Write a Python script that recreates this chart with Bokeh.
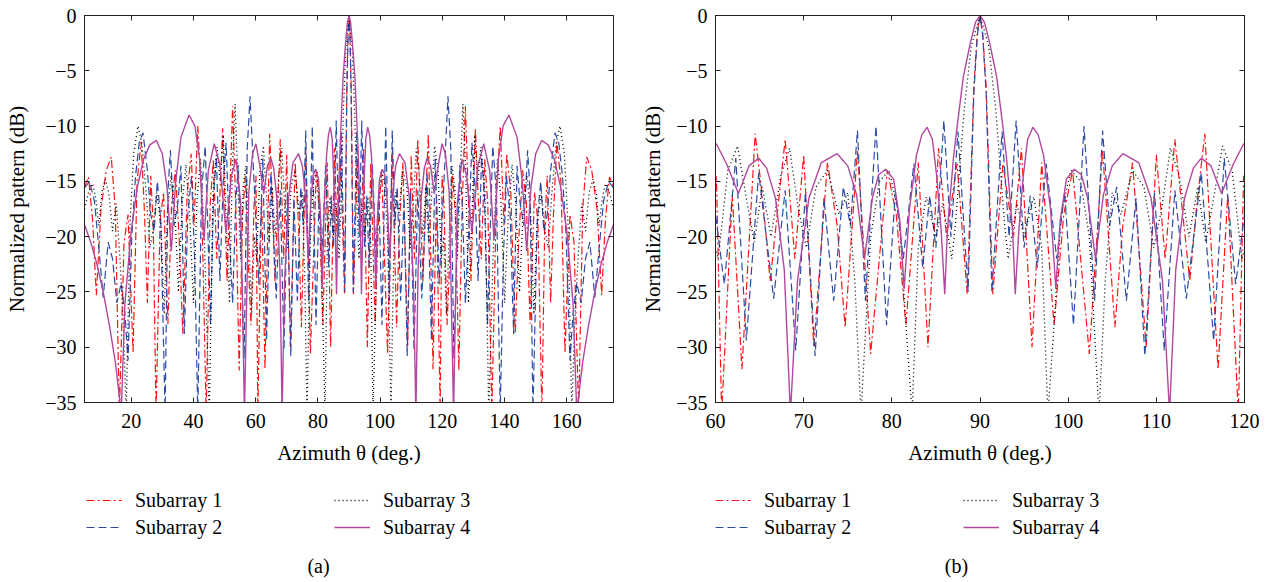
from bokeh.plotting import figure
from bokeh.models import (LinearAxis, Legend, LegendItem, Label, FixedTicker,
                          Range1d, CustomJSTickFormatter)
from bokeh.layouts import row, column
from bokeh.embed import file_html
from bokeh.resources import INLINE

FONT = "Liberation Serif"

# ---------------- data (azimuth in degrees, normalized pattern in dB) ----------------
series_names = ["Subarray 1", "Subarray 2", "Subarray 3", "Subarray 4"]

sub1_theta = [5.0, 6.3, 7.6, 8.8, 10.3, 12.0, 13.6, 14.9, 16.2, 17.7, 19.0, 20.6, 21.9, 23.2, 24.3,
              25.2, 26.3, 27.1, 28.0, 29.3, 30.4, 31.8, 33.0, 34.2, 35.4, 36.6, 38.0, 39.3, 40.2,
              41.4, 42.6, 44.1, 45.4, 46.4, 47.5, 48.4, 49.4, 50.8, 52.6, 53.7, 54.7, 55.8, 56.7,
              57.6, 58.5, 59.5, 60.1, 60.7, 61.9, 63.0, 64.5, 65.4, 66.2, 67.9, 69.0, 70.0, 71.15,
              72.7, 73.8, 74.7, 76.1, 77.6, 79.5, 80.5, 81.6, 83.0, 84.1, 85.3, 86.2, 87.4, 88.55,
              89.3, 89.7, 90.0,
              90.3, 90.7, 91.45, 92.6, 93.8, 94.7, 95.9, 97.0, 98.4, 99.5, 100.5, 102.4, 103.9,
              105.3, 106.2, 107.3, 108.85, 110.0, 111.0, 112.1, 113.8, 114.6, 115.5, 117.0, 118.1,
              119.3, 119.9, 120.5, 121.5, 122.4, 123.3, 124.2, 125.3, 126.3, 127.4, 129.2, 130.6,
              131.6, 132.5, 133.6, 134.6, 135.9, 137.4, 138.6, 139.8, 140.7, 142.0, 143.4, 144.6,
              145.8, 147.0, 148.2, 149.6, 150.7, 152.0, 152.9, 153.7, 154.8, 155.7, 156.8, 158.1,
              159.4, 161.0, 162.3, 163.8, 165.1, 166.4, 168.0, 169.7, 171.2, 172.4, 173.7, 175.0]
sub1_db = [-15.5, -14.6, -18.5, -25.3, -17.5, -14.0, -12.8, -17.5, -36, -20.5, -18.0, -30.5, -15.0,
           -11.4, -18, -26, -14.5, -19, -36, -18.5, -16.0, -27.9, -17.0, -14.0, -20, -28.8, -16,
           -12.5, -19, -10.0, -16, -36, -17, -13.0, -22, -17, -10.2, -24, -8.2, -18, -32.1, -18,
           -14.5, -22, -28, -17, -14.5, -36, -16.2, -32, -10.7, -17, -24, -11.2, -22, -12.6, -30,
           -13.3, -19, -28.2, -12.2, -30.6, -14.0, -18, -28, -13.3, -30, -12.0, -20, -13.4, -25.2,
           -6.5, -1.5, 0.0,
           -1.5, -6.5, -25.2, -13.4, -20, -12.0, -30, -13.3, -28, -18, -14.0, -30.6, -12.2, -28.2,
           -19, -13.3, -30, -12.6, -22, -11.2, -24, -17, -10.7, -32, -16.2, -36, -14.5, -17, -28,
           -22, -14.5, -18, -32.1, -18, -8.2, -24, -10.2, -17, -22, -13.0, -17, -36, -16, -10.0,
           -19, -12.5, -16, -28.8, -20, -14.0, -17.0, -27.9, -16.0, -18.5, -36, -19, -14.5, -26,
           -18, -11.4, -15.0, -30.5, -18.0, -20.5, -36, -17.5, -12.8, -14.0, -17.5, -25.3, -18.5,
           -14.6, -15.5]

sub2_theta = [5.0, 6.6, 8.2, 9.6, 11.0, 12.6, 14.0, 15.4, 16.8, 18.0, 19.0, 20.2, 21.4, 22.6, 23.8,
              25.2, 26.3, 27.4, 28.4, 29.5, 30.9, 31.8, 32.6, 33.8, 35.0, 36.0, 37.1, 38.2, 39.4,
              40.4, 41.4, 42.6, 43.8, 44.7, 45.5, 46.5, 47.4, 48.5, 49.6, 50.5, 51.6, 52.6, 53.6,
              54.4, 55.4, 56.3, 57.3, 58.2, 59.3, 60.0, 61.0, 62.3, 63.5, 64.9, 66.6, 67.9, 69.1,
              70.2, 71.3, 72.3, 73.4, 74.5, 75.3, 76.1, 77.0, 78.2, 79.4, 80.4, 81.3, 82.5, 83.5,
              84.3, 85.0, 85.9, 86.7, 87.5, 88.65, 89.3, 89.7, 90.0,
              90.3, 90.7, 91.35, 92.5, 93.3, 94.1, 95.0, 95.7, 96.5, 97.5, 98.7, 99.6, 100.6, 101.8,
              103.0, 103.9, 104.7, 105.5, 106.6, 107.7, 108.7, 109.8, 110.9, 112.1, 113.4, 115.1,
              116.5, 117.7, 119.0, 120.0, 120.7, 121.8, 122.7, 123.7, 124.6, 125.6, 126.4, 127.4,
              128.4, 129.5, 130.4, 131.5, 132.6, 133.5, 134.5, 135.3, 136.2, 137.4, 138.6, 139.6,
              140.6, 141.8, 142.9, 144.0, 145.0, 146.2, 147.4, 148.2, 149.1, 150.5, 151.6, 152.6,
              153.7, 154.8, 156.2, 157.4, 158.6, 159.8, 161.0, 162.0, 163.2, 164.6, 166.0, 167.4,
              169.0, 170.4, 171.8, 173.4, 175.0]
sub2_db = [-15.6, -15.0, -16.8, -21, -25.5, -20.5, -22, -26, -24.2, -27, -31.2, -20, -14.5, -11.5,
           -10.6, -14, -18, -19.5, -15, -18.5, -36, -16, -12.2, -19, -17, -13.6, -28.8, -18, -14.5,
           -22, -36, -16, -11.8, -20, -28, -16, -12.8, -24, -15, -11.5, -20, -26, -17, -13.5, -22,
           -31, -12, -7.3, -14, -18, -24.3, -12.9, -29.4, -14.2, -25.6, -15.8, -30.3, -16.0, -30.8,
           -16.5, -25.8, -15.5, -19, -10.4, -25.8, -10.0, -28, -16, -22, -13.4, -22.8, -16.3, -21,
           -9.5, -20, -10.5, -25, -7, -1.8, 0.0,
           -1.8, -7, -25, -10.5, -20, -9.5, -21, -16.3, -22.8, -13.4, -22, -16, -28, -10.0, -25.8,
           -10.4, -19, -15.5, -25.8, -16.5, -30.8, -16.0, -30.3, -15.8, -25.6, -14.2, -29.4, -12.9,
           -24.3, -18, -14, -7.3, -12, -31, -22, -13.5, -17, -26, -20, -11.5, -15, -24, -12.8, -16,
           -28, -20, -11.8, -16, -36, -22, -14.5, -18, -28.8, -13.6, -17, -19, -12.2, -16, -36,
           -18.5, -15, -19.5, -18, -14, -10.6, -11.5, -14.5, -20, -31.2, -27, -24.2, -26, -22,
           -20.5, -25.5, -21, -16.8, -15.0, -15.6]

sub3_theta = [5.0, 6.3, 7.6, 8.6, 9.6, 10.6, 11.6, 12.8, 14.0, 15.2, 16.4, 17.5, 18.4, 19.6, 20.8,
              22.2, 23.4, 24.8, 26.0, 27.0, 28.2, 29.6, 30.6, 31.6, 32.8, 34.0, 35.2, 36.4, 37.6,
              38.8, 40.0, 41.2, 42.3, 43.5, 45.1, 46.3, 47.6, 48.6, 49.6, 50.6, 51.6, 52.5, 53.4,
              54.4, 55.2, 56.0, 56.9, 57.8, 58.7, 59.6, 60.3, 61.4, 62.5, 63.6, 64.4, 65.3, 66.3,
              67.4, 68.4, 69.4, 70.3, 71.4, 72.7, 74.0, 75.0, 75.8, 76.5, 77.6, 78.6, 79.7, 80.8,
              81.6, 82.3, 83.0, 83.9, 85.0, 85.8, 86.8, 87.2, 88.2, 89.0, 90.0,
              91.0, 91.8, 92.8, 93.2, 94.2, 95.0, 96.1, 97.0, 97.7, 98.4, 99.2, 100.3, 101.4, 102.4,
              103.5, 104.2, 105.0, 106.0, 107.3, 108.6, 109.7, 110.6, 111.6, 112.6, 113.7, 114.7,
              115.6, 116.4, 117.5, 118.6, 119.7, 120.4, 121.3, 122.2, 123.1, 124.0, 124.8, 125.6,
              126.6, 127.5, 128.4, 129.4, 130.4, 131.4, 132.4, 133.7, 134.9, 136.5, 137.7, 138.8,
              140.0, 141.2, 142.4, 143.6, 144.8, 146.0, 147.2, 148.4, 149.4, 150.4, 151.8, 153.0,
              154.0, 155.2, 156.6, 157.8, 159.2, 160.4, 161.6, 162.5, 163.6, 164.8, 166.0, 167.2,
              168.4, 169.4, 170.4, 171.4, 172.4, 173.7, 175.0]
sub3_db = [-17.5, -16.0, -15.2, -16.5, -19, -16, -14.8, -16, -19.5, -17, -22, -28, -36, -19, -12.5,
           -10.0, -11.5, -16, -21, -19.5, -16, -19, -27, -18, -14.5, -17.5, -25, -17, -13.5, -18,
           -26, -16.5, -13, -20, -36, -16, -11.9, -15, -10.8, -19, -26, -14, -8.0, -16, -22, -15.5,
           -13.6, -20, -27, -20, -22, -14, -11.8, -17, -20.5, -15.5, -20, -14.5, -12.0, -17.5, -21,
           -15.5, -14.0, -18, -16, -24, -36, -20, -15, -14.0, -18, -28, -36, -21, -16.4, -20, -17,
           -22, -19, -8.6, -2.8, 0.0,
           -2.8, -8.6, -19, -22, -17, -20, -16.4, -21, -36, -28, -18, -14.0, -15, -20, -36, -24,
           -16, -18, -14.0, -15.5, -21, -17.5, -12.0, -14.5, -20, -15.5, -20.5, -17, -11.8, -14,
           -22, -20, -27, -20, -13.6, -15.5, -22, -16, -8.0, -14, -26, -19, -10.8, -15, -11.9, -16,
           -36, -20, -13, -16.5, -26, -18, -13.5, -17, -25, -17.5, -14.5, -18, -27, -19, -16,
           -19.5, -21, -16, -11.5, -10.0, -12.5, -19, -36, -28, -22, -17, -19.5, -16, -14.8, -16,
           -19, -16.5, -15.2, -16.0, -17.5]

sub4_theta = [5.0, 7.0, 9.0, 11.0, 13.0, 15.0, 16.8, 18.0, 20.0, 22.0, 24.0, 26.0, 28.1, 30.0,
              31.5, 32.9, 34.3, 36.0, 38.6, 40.5, 42.0, 43.4, 44.8, 46.7, 48.5, 50.5, 52.2, 53.7,
              55.2, 56.4, 57.8, 59.0, 60.1, 61.3, 62.6, 63.8, 64.9, 65.8, 66.8, 67.8, 68.5, 69.3,
              70.6, 72.0, 73.8, 75.0, 76.0, 76.9, 77.8, 78.5, 79.3, 80.2, 80.9, 81.4, 82.0, 82.8,
              83.4, 84.0, 84.6, 85.1, 85.6, 86.0, 86.3, 86.6, 87.0, 87.4, 88.1, 88.9, 89.5, 90.0,
              90.5, 91.1, 91.9, 92.6, 93.0, 93.4, 93.7, 94.0, 94.4, 94.9, 95.4, 96.0, 96.6, 97.2,
              98.0, 98.6, 99.1, 99.8, 100.7, 101.5, 102.2, 103.1, 104.0, 105.0, 106.2, 108.0, 109.4,
              110.7, 111.5, 112.2, 113.2, 114.2, 115.1, 116.2, 117.4, 118.7, 119.9, 121.0, 122.2,
              123.6, 124.8, 126.3, 127.8, 129.5, 131.5, 133.3, 135.2, 136.6, 138.0, 139.5, 141.4,
              144.0, 145.7, 147.1, 148.5, 150.0, 151.9, 154.0, 156.0, 158.0, 160.0, 162.0, 163.2,
              165.0, 167.0, 169.0, 171.0, 173.0, 175.0]
sub4_db = [-18.9, -20.5, -22.5, -25, -28, -31.5, -36, -26, -19.5, -15.5, -13, -11.7, -11.3, -12.5,
           -15.5, -21.3, -15, -11, -9.0, -10, -13, -20.3, -14, -11.6, -13.5, -19.6, -14.5, -13.0,
           -17, -36, -16, -12.5, -11.6, -13.5, -16.1, -13.6, -12.9, -13.8, -16.5, -23, -36, -24,
           -16.5, -13.3, -12.5, -13.6, -16.2, -22, -16.5, -14.4, -13.9, -14.8, -18.5, -24.7, -17.5,
           -12.6, -10.8, -10.1, -11.2, -14.6, -19.5, -25.2, -19.5, -16.5, -12.8, -10.1, -5.6, -2.5,
           -0.6, 0.0,
           -0.6, -2.5, -5.6, -10.1, -12.8, -16.5, -19.5, -25.2, -19.5, -14.6, -11.2, -10.1, -10.8,
           -12.6, -17.5, -24.7, -18.5, -14.8, -13.9, -14.4, -16.5, -22, -16.2, -13.6, -12.5, -13.3,
           -16.5, -24, -36, -23, -16.5, -13.8, -12.9, -13.6, -16.1, -13.5, -11.6, -12.5, -16, -36,
           -17, -13.0, -14.5, -19.6, -13.5, -11.6, -14, -20.3, -13, -10, -9.0, -11, -15, -21.3,
           -15.5, -12.5, -11.3, -11.7, -13, -15.5, -19.5, -26, -36, -31.5, -28, -25, -22.5, -20.5,
           -18.9]

panel_a_ticks = [20, 40, 60, 80, 100, 120, 140, 160]
panel_b_ticks = [60, 70, 80, 90, 100, 110, 120]
y_ticks = [-35, -30, -25, -20, -15, -10, -5, 0]

# ---------------- styling ----------------
styles = [
    dict(line_color="#ff1414", line_dash="8 3 2 3", line_width=1.2),
    dict(line_color="#2c4ba6", line_dash="8 4", line_width=1.2),
    dict(line_color="#000000", line_dash="1 3", line_width=1.3),
    dict(line_color="#b2479f", line_dash="solid", line_width=1.4),
]
series = [(sub1_theta, sub1_db), (sub2_theta, sub2_db), (sub3_theta, sub3_db), (sub4_theta, sub4_db)]

minus_fmt = "return tick < 0 ? '\u2212' + Math.abs(tick) : String(tick);"


def style_axis(ax, ticks, show_labels=True):
    ax.ticker = FixedTicker(ticks=ticks)
    ax.major_tick_in = 5
    ax.major_tick_out = 0
    ax.minor_tick_line_color = None
    ax.axis_line_color = "#222222"
    ax.major_tick_line_color = "#222222"
    if show_labels:
        ax.major_label_text_font = FONT
        ax.major_label_text_font_size = "20px"
        ax.major_label_text_color = "black"
    else:
        ax.formatter = CustomJSTickFormatter(code="return '';")
        ax.major_label_text_font_size = "1px"
        ax.major_label_standoff = 0


def make_plot(xr, xticks, border_left, border_right, ylab_standoff):
    p = figure(width=636, height=470, x_range=Range1d(*xr), y_range=Range1d(-35, 0),
               output_backend="svg", toolbar_location=None,
               min_border_left=border_left, min_border_right=border_right,
               min_border_top=15, min_border_bottom=68)
    p.background_fill_color = "white"
    p.border_fill_color = "white"
    p.outline_line_color = "#222222"
    p.outline_line_alpha = 1.0
    p.xgrid.grid_line_color = None
    p.ygrid.grid_line_color = None

    style_axis(p.xaxis[0], xticks)
    style_axis(p.yaxis[0], y_ticks)
    p.yaxis[0].formatter = CustomJSTickFormatter(code=minus_fmt)
    p.yaxis[0].major_label_standoff = 8
    p.xaxis[0].major_label_standoff = 11

    p.xaxis[0].axis_label = "Azimuth \u03b8 (deg.)"
    p.yaxis[0].axis_label = "Normalized pattern (dB)"
    for ax in (p.xaxis[0], p.yaxis[0]):
        ax.axis_label_text_font = FONT
        ax.axis_label_text_font_size = "21px"
        ax.axis_label_text_font_style = "normal"
        ax.axis_label_text_color = "black"
    p.xaxis[0].axis_label_standoff = 10
    p.yaxis[0].axis_label_standoff = ylab_standoff

    top = LinearAxis()
    style_axis(top, xticks, show_labels=False)
    p.add_layout(top, "above")
    right = LinearAxis()
    style_axis(right, y_ticks, show_labels=False)
    p.add_layout(right, "right")

    for (tx, ty), st in zip(series, styles):
        p.line(x=tx, y=ty, **st)
    return p


def make_legend_strip(legend_x, caption, caption_x):
    # strip below each panel: its ranges keep the series out of view, it only shows the key
    q = figure(width=636, height=112, x_range=Range1d(0, 1), y_range=Range1d(0, 1),
               x_axis_type=None, y_axis_type=None, output_backend="svg",
               toolbar_location=None, min_border=0)
    q.outline_line_color = None
    q.background_fill_color = "white"
    q.border_fill_color = "white"
    items = []
    for name, (tx, ty), st in zip(series_names, series, styles):
        r = q.line(x=tx, y=ty, **st)
        items.append(LegendItem(label=name, renderers=[r]))
    legend = Legend(items=items, location=(legend_x, 43.5), orientation="vertical", nrows=2,
                    glyph_width=36, glyph_height=20, label_standoff=13, label_width=195,
                    label_height=20, spacing=4, padding=0, margin=0,
                    border_line_color=None, background_fill_alpha=0,
                    label_text_font=FONT, label_text_font_size="20px",
                    label_text_color="black")
    q.add_layout(legend)
    q.add_layout(Label(x=caption_x, y=17, x_units="screen", y_units="screen", text=caption,
                       text_align="center", text_baseline="middle", text_font=FONT,
                       text_font_size="20px", text_color="black"))
    return q


p1 = make_plot((5, 175), panel_a_ticks, 84, 23, 13)
p2 = make_plot((60, 120), panel_b_ticks, 79, 28, 8)
l1 = make_legend_strip(2, "(a)", 234)
l2 = make_legend_strip(0, "(b)", 241)

layout = row(column(p1, l1), column(p2, l2))
open("out.html", "w").write(file_html(layout, INLINE))
